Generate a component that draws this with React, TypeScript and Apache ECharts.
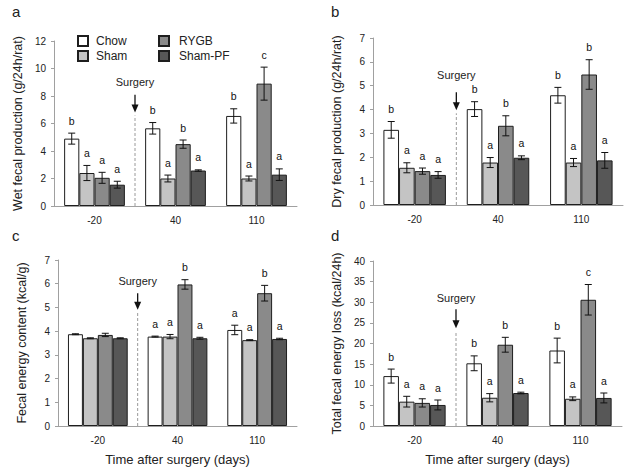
import React, { useEffect, useRef } from 'react';
import * as echarts from 'echarts';

const categories = ['-20', '40', '110'];
const groups = ['Chow', 'Sham', 'RYGB', 'Sham-PF'];
const groupColors = ['#ffffff', '#c4c4c4', '#8a8a8a', '#575757'];

// Panel a: wet fecal production (g/24h/rat); rows = groups, cols = categories
const wetMeans = [[4.9, 5.65, 6.55], [2.4, 2.0, 2.0], [2.05, 4.5, 8.9], [1.55, 2.58, 2.28]];
const wetErr = [[0.4, 0.42, 0.52], [0.55, 0.25, 0.18], [0.4, 0.3, 1.2], [0.25, 0.05, 0.42]];
const wetLetters = [['b', 'b', 'b'], ['a', 'a', 'a'], ['a', 'b', 'c'], ['a', 'a', 'a']];

// Panel b: dry fecal production
const dryMeans = [[3.15, 4.02, 4.6], [1.56, 1.78, 1.78], [1.42, 3.32, 5.47], [1.26, 1.98, 1.87]];
const dryErr = [[0.35, 0.31, 0.33], [0.21, 0.21, 0.17], [0.13, 0.42, 0.62], [0.14, 0.08, 0.33]];
const dryLetters = [['b', 'b', 'b'], ['a', 'a', 'a'], ['a', 'b', 'b'], ['a', 'a', 'a']];

// Panel c: fecal energy content (kcal/g)
const energyMeans = [[3.87, 3.77, 4.05], [3.7, 3.77, 3.62], [3.84, 5.97, 5.6], [3.7, 3.7, 3.67]];
const energyErr = [[0.02, 0.02, 0.2], [0.02, 0.09, 0.02], [0.07, 0.2, 0.33], [0.02, 0.04, 0.03]];
const energyLetters = [['', 'a', 'a'], ['', 'a', 'a'], ['', 'b', 'b'], ['', 'a', 'a']];

// Panel d: total fecal energy loss (kcal/24h)
const lossMeans = [[12.1, 15.2, 18.3], [5.9, 6.85, 6.6], [5.6, 19.7, 30.6], [5.1, 8.0, 6.8]];
const lossErr = [[1.7, 1.8, 3.0], [1.3, 1.0, 0.45], [1.0, 1.8, 3.7], [1.2, 0.2, 1.2]];
const lossLetters = [['b', 'b', 'b'], ['a', 'a', 'a'], ['a', 'b', 'c'], ['a', 'a', 'a']];

const panelLetters = ['a', 'b', 'c', 'd'];
const yTitles = [
  'Wet fecal production (g/24h/rat)',
  'Dry fecal production (g/24h/rat)',
  'Fecal energy content (kcal/g)',
  'Total fecal energy loss (kcal/24h)',
];
const yMax = [12, 7, 7, 40];
const yStep = [2, 1, 1, 5];
const xTitle = 'Time after surgery (days)';

// Surgery annotation (in y-axis units): label, arrow start, arrow tip
const surgeryLabel = [9.0, 5.45, 6.1, 31];
const surgeryArrowTop = [8.1, 4.73, 5.6, 28.3];
const surgeryArrowTip = [6.8, 3.97, 4.9, 23.7];

const FONT = 'Liberation Sans, Arial, sans-serif';
const BAR_FRACTION = 0.75;

const grids = [
  { left: 54, top: 41, width: 243, height: 165 },
  { left: 373, top: 38, width: 250, height: 167 },
  { left: 58, top: 260, width: 239, height: 166 },
  { left: 373, top: 261, width: 249, height: 165 },
];
const panelLetterPos = [[12, 4], [331, 4], [12, 228], [331, 228]];

export default function App() {
  const ref = useRef<HTMLDivElement>(null);
  useEffect(() => {
    if (!ref.current) return;
    const chart = echarts.init(ref.current, undefined, { renderer: 'svg' });
    const panels = [
      { means: wetMeans, errs: wetErr, letters: wetLetters },
      { means: dryMeans, errs: dryErr, letters: dryLetters },
      { means: energyMeans, errs: energyErr, letters: energyLetters },
      { means: lossMeans, errs: lossErr, letters: lossLetters },
    ];
    const xAxis: any[] = [];
    const yAxis: any[] = [];
    const series: any[] = [];
    panels.forEach((p, pi) => {
      xAxis.push({
        type: 'category',
        gridIndex: pi,
        data: categories,
        name: pi >= 2 ? xTitle : '',
        nameLocation: 'middle',
        nameGap: 27,
        nameTextStyle: { fontSize: 13, color: '#222', fontFamily: FONT },
        axisLine: { lineStyle: { color: '#a0a0a0', width: 1 } },
        axisTick: { show: false },
        axisLabel: { fontSize: 10, color: '#222', margin: 9, interval: 0, fontFamily: FONT },
      });
      xAxis.push({ type: 'value', gridIndex: pi, min: 0, max: 3, show: false });
      yAxis.push({
        type: 'value',
        gridIndex: pi,
        min: 0,
        max: yMax[pi],
        interval: yStep[pi],
        name: yTitles[pi],
        nameLocation: 'middle',
        nameGap: 30,
        nameTextStyle: { fontSize: 12.5, color: '#222', fontFamily: FONT },
        axisLine: { show: true, lineStyle: { color: '#a0a0a0', width: 1 } },
        axisTick: { show: true, length: 3, lineStyle: { color: '#a0a0a0' } },
        splitLine: { show: false },
        axisLabel: { fontSize: 10, color: '#222', margin: 8, fontFamily: FONT },
      });
      groups.forEach((g, gi) => {
        series.push({
          type: 'bar',
          name: g,
          xAxisIndex: pi * 2,
          yAxisIndex: pi,
          data: p.means[gi],
          barGap: '0%',
          barCategoryGap: `${Math.round((1 - BAR_FRACTION) * 100)}%`,
          itemStyle: { color: groupColors[gi], borderColor: '#1e1e1e', borderWidth: 1 },
        });
      });
      const errData: any[] = [];
      const errLetters: string[] = [];
      groups.forEach((g, gi) => {
        categories.forEach((c, ci) => {
          errData.push([ci, p.means[gi][ci], p.errs[gi][ci], gi]);
          errLetters.push(p.letters[gi][ci]);
        });
      });
      series.push({
        type: 'custom',
        xAxisIndex: pi * 2,
        yAxisIndex: pi,
        data: errData,
        silent: true,
        z: 5,
        renderItem: (params: any, api: any) => {
          const cat = api.value(0);
          const mean = api.value(1);
          const err = api.value(2);
          const gi = api.value(3);
          const band = api.size([1, 0])[0];
          const center = api.coord([cat, 0])[0];
          const bw = (band * BAR_FRACTION) / 4;
          const x = center - (band * BAR_FRACTION) / 2 + bw * (gi + 0.5);
          const yT = api.coord([cat, mean + err])[1];
          const yB = api.coord([cat, mean - err])[1];
          const cap = 3.5;
          const st = { stroke: '#111', lineWidth: 1 };
          const letter = errLetters[params.dataIndex];
          const children: any[] = [
            { type: 'line', shape: { x1: x, y1: yT, x2: x, y2: yB }, style: st },
            { type: 'line', shape: { x1: x - cap, y1: yT, x2: x + cap, y2: yT }, style: st },
            { type: 'line', shape: { x1: x - cap, y1: yB, x2: x + cap, y2: yB }, style: st },
          ];
          if (letter) {
            children.push({
              type: 'text',
              style: {
                x,
                y: yT - 7,
                text: letter,
                align: 'center',
                verticalAlign: 'bottom',
                fontSize: 10.5,
                fontFamily: FONT,
                fill: '#111',
              },
            });
          }
          return { type: 'group', children };
        },
      });
      series.push({
        type: 'custom',
        xAxisIndex: pi * 2 + 1,
        yAxisIndex: pi,
        data: [[1, surgeryArrowTip[pi], surgeryArrowTop[pi], surgeryLabel[pi]]],
        silent: true,
        z: 4,
        renderItem: (params: any, api: any) => {
          const p0 = api.coord([api.value(0), 0]);
          const pTip = api.coord([api.value(0), api.value(1)]);
          const pTop = api.coord([api.value(0), api.value(2)]);
          const pText = api.coord([api.value(0), api.value(3)]);
          const x = p0[0];
          return {
            type: 'group',
            children: [
              {
                type: 'line',
                shape: { x1: x, y1: p0[1], x2: x, y2: pTip[1] + 3 },
                style: { stroke: '#9a9a9a', lineWidth: 1, lineDash: [3, 2] },
              },
              {
                type: 'line',
                shape: { x1: x, y1: pTop[1], x2: x, y2: pTip[1] - 5 },
                style: { stroke: '#111', lineWidth: 1.3 },
              },
              {
                type: 'polygon',
                shape: { points: [[x - 3.5, pTip[1] - 8], [x + 3.5, pTip[1] - 8], [x, pTip[1]]] },
                style: { fill: '#111' },
              },
              {
                type: 'text',
                style: {
                  x,
                  y: pText[1],
                  text: 'Surgery',
                  align: 'center',
                  verticalAlign: 'middle',
                  fontSize: 11,
                  fontFamily: FONT,
                  fill: '#222',
                },
              },
            ],
          };
        },
      });
    });

    chart.setOption({
      animation: false,
      backgroundColor: '#ffffff',
      textStyle: { fontFamily: FONT },
      grid: grids.map((g) => ({ ...g, containLabel: false })),
      xAxis,
      yAxis,
      legend: [
        {
          data: ['Chow', 'Sham'],
          orient: 'vertical',
          left: 72,
          top: 30,
          itemWidth: 10,
          itemHeight: 10,
          itemGap: 3,
          icon: 'rect',
          selectedMode: false,
          textStyle: { fontSize: 12, color: '#222', fontFamily: FONT, padding: [0, 0, 0, 3] },
        },
        {
          data: ['RYGB', 'Sham-PF'],
          orient: 'vertical',
          left: 153,
          top: 30,
          itemWidth: 10,
          itemHeight: 10,
          itemGap: 3,
          icon: 'rect',
          selectedMode: false,
          textStyle: { fontSize: 12, color: '#222', fontFamily: FONT, padding: [0, 0, 0, 5] },
        },
      ],
      graphic: panelLetters.map((l, i) => ({
        type: 'text',
        left: panelLetterPos[i][0],
        top: panelLetterPos[i][1],
        style: { text: l, fontSize: 15, fontFamily: FONT, fill: '#222' },
      })),
      series,
    });
    return () => chart.dispose();
  }, []);
  return (
    <div
      ref={ref}
      style={{ position: 'fixed', left: 0, top: 0, width: 629, height: 475, background: '#fff' }}
    />
  );
}
